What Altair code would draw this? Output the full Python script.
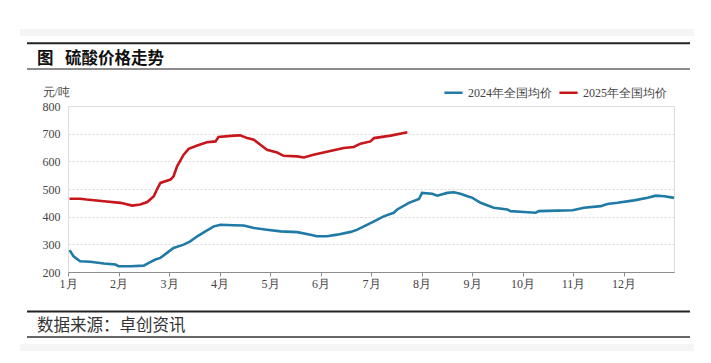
import altair as alt
import pandas as pd

# ---- data (x = month position, 0 = 1月 start) ----
x_2024 = [0.03, 0.11, 0.24, 0.44, 0.71, 0.94, 1.00, 1.24, 1.50, 1.60, 1.73, 1.83,
          1.96, 2.09, 2.29, 2.42, 2.56, 2.72, 2.89, 3.02, 3.28, 3.48, 3.68, 3.94,
          4.21, 4.54, 4.80, 4.93, 5.13, 5.33, 5.60, 5.73, 5.86, 6.06, 6.25, 6.45,
          6.52, 6.75, 6.95, 7.01, 7.21, 7.31, 7.51, 7.64, 7.77, 7.91, 8.01, 8.17,
          8.43, 8.70, 8.76, 9.03, 9.26, 9.32, 9.69, 9.99, 10.22, 10.55, 10.68,
          10.88, 11.21, 11.48, 11.64, 11.81, 12.00]
v_2024 = [279, 257, 239, 237, 231, 227, 221, 221, 223, 233, 245, 251,
          269, 287, 299, 311, 329, 347, 365, 371, 369, 368, 359, 353,
          347, 344, 335, 329, 329, 335, 345, 353, 365, 383, 401, 414,
          426, 450, 464, 486, 483, 476, 486, 488, 483, 474, 468, 450,
          432, 426, 420, 417, 414, 420, 422, 423, 432, 438, 446,
          450, 459, 468, 476, 474, 468]

x_2025 = [0.03, 0.24, 0.37, 0.71, 1.04, 1.27, 1.43, 1.57, 1.70, 1.76, 1.83, 2.03,
          2.09, 2.16, 2.29, 2.39, 2.56, 2.75, 2.92, 2.98, 3.28, 3.41, 3.55, 3.68,
          3.81, 3.94, 4.14, 4.27, 4.54, 4.67, 4.86, 5.06, 5.26, 5.46, 5.66, 5.79,
          5.99, 6.06, 6.39, 6.72]
v_2025 = [465, 465, 462, 456, 450, 440, 444, 453, 474, 498, 522, 534,
          546, 582, 624, 645, 657, 669, 672, 688, 693, 694, 684, 678,
          660, 642, 632, 620, 618, 614, 624, 632, 640, 648, 652, 664,
          672, 684, 693, 705]

series_names = ["2024年全国均价", "2025年全国均价"]
series_colors = ["#1f7aa6", "#c8161d"]
month_labels = ["1月", "2月", "3月", "4月", "5月", "6月", "7月", "8月", "9月", "10月", "11月", "12月"]
y_ticks = [200, 300, 400, 500, 600, 700, 800]

title_text = "图\u2002\u2009硫酸价格走势"
source_text = "数据来源：卓创资讯"
unit_text = "元/吨"

df = pd.concat([
    pd.DataFrame({"m": x_2024, "v": v_2024, "s": series_names[0]}),
    pd.DataFrame({"m": x_2025, "v": v_2025, "s": series_names[1]}),
])

FONT = "Liberation Serif"
CJK = "Noto Sans CJK SC"
W, H = 606, 166

label_expr = "[" + ",".join("'%s'" % s for s in month_labels) + "][datum.value]"

lines = alt.Chart(df).mark_line(strokeWidth=2.6).encode(
    x=alt.X("m:Q", scale=alt.Scale(domain=[0, 12], nice=False),
            axis=alt.Axis(values=list(range(12)), labelExpr=label_expr, title=None,
                          grid=False, domain=True, domainColor="#8c8c8c",
                          tickColor="#8c8c8c", tickSize=4, labelPadding=2,
                          labelFont=FONT, labelFontSize=12, labelColor="#444",
                          labelAlign="center")),
    y=alt.Y("v:Q", scale=alt.Scale(domain=[200, 800], nice=False),
            axis=alt.Axis(values=y_ticks, title=unit_text, titleAngle=0, titleAlign="left",
                          titleBaseline="middle", titleX=-26, titleY=-15,
                          titleFont=FONT, titleFontSize=12, titleFontWeight="normal",
                          titleColor="#444", domain=False, ticks=False,
                          labelPadding=8, labelFont=FONT, labelFontSize=12,
                          labelColor="#444", grid=True, gridColor="#d9d9d9",
                          gridDash=[2, 2], gridWidth=1)),
    color=alt.Color("s:N", scale=alt.Scale(domain=series_names, range=series_colors),
                    legend=alt.Legend(title=None, orient="none", direction="horizontal",
                                      legendX=375, legendY=-24, symbolType="stroke",
                                      symbolStrokeWidth=2.5, symbolSize=330,
                                      labelFont=FONT, labelFontSize=12, labelColor="#444",
                                      labelOffset=4, columnPadding=2)),
)

one = pd.DataFrame({"a": [0]})

def rule(y, color, width):
    return alt.Chart(one).mark_rule(color=color, strokeWidth=width).encode(
        x=alt.value(-41), x2=alt.value(622), y=alt.value(y))

def band(y1, y2):
    return alt.Chart(one).mark_rect(color="#f5f5f5").encode(
        x=alt.value(-48), x2=alt.value(629), y=alt.value(y1), y2=alt.value(y2))

title = alt.Chart(one).mark_text(align="left", baseline="middle", fontSize=16.5,
                                 fontWeight="bold", font=CJK, color="#111").encode(
    x=alt.value(-31), y=alt.value(-47), text=alt.value(title_text))

source = alt.Chart(one).mark_text(align="left", baseline="middle", fontSize=16.5,
                                  font=CJK, color="#333").encode(
    x=alt.value(-31), y=alt.value(219.5), text=alt.value(source_text))

chart = alt.layer(
    band(-77, -70), band(238, 245),
    rule(-62.7, "#222", 2), rule(-37, "#666", 1.6),
    rule(205.5, "#222", 2), rule(231, "#666", 2),
    title, source, lines,
).properties(
    width=W, height=H,
    padding={"left": 60, "top": 98, "right": 20, "bottom": 82},
    autosize=alt.AutoSizeParams(type="none"),
).configure_view(stroke=None).configure(background="white")

chart.save("out.html", embed_options={"renderer": "svg", "actions": False})
